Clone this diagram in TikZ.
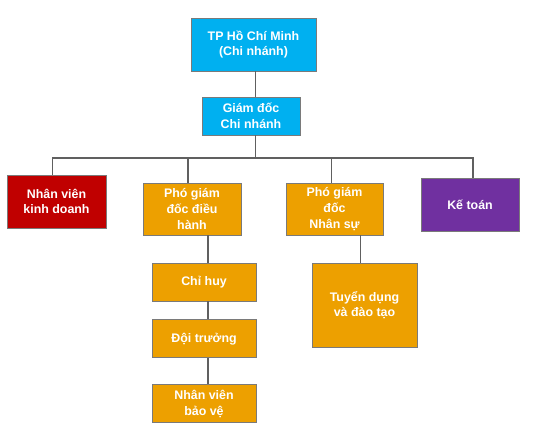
\documentclass[tikz,border=0pt]{standalone}
\usepackage{fontspec}
\setmainfont{Liberation Sans}
\usepackage{xcolor}
\usepackage{tikz}
\usetikzlibrary{positioning}

\definecolor{chinhanh}{HTML}{00B0F0}
\definecolor{kinhdoanh}{HTML}{C00000}
\definecolor{phogd}{HTML}{EDA000}
\definecolor{ketoan}{HTML}{7030A0}
\definecolor{vien}{HTML}{7A7A7A}
\definecolor{noi}{HTML}{606060}

\begin{document}
\begin{tikzpicture}[
    x=1pt, y=-1pt,
    box/.style={draw=vien, line width=0.9pt, fill=#1, text=white, inner sep=0pt,
                font=\fontsize{12.4}{15.7}\selectfont\bfseries, align=center},
    box/.default=phogd,
    conn/.style={draw=noi, line width=1.7pt},
]
\useasboundingbox (0,0) rectangle (556,428);

% Cap tren
\node[box=chinhanh, minimum width=125pt, minimum height=53pt] (tphcm) at (253.5,44.5) {TP Hồ Chí Minh\\(Chi nhánh)};
\node[box=chinhanh, minimum width=98pt, minimum height=38pt] (giamdoc) at (251,116) {Giám đốc\\Chi nhánh};

% Cac bo phan
\node[box=kinhdoanh, minimum width=99pt, minimum height=53pt] (nvkd) at (56.5,201.5) {Nhân viên\\kinh doanh};
\node[box, minimum width=98pt, minimum height=52pt] (pgddh) at (192,209) {Phó giám\\đốc điều\\hành};
\node[box, minimum width=97pt, minimum height=52pt] (pgdns) at (334.5,209) {Phó giám\\đốc\\Nhân sự};
\node[box=ketoan, minimum width=98pt, minimum height=53pt] (ketoan) at (470,204.5) {Kế toán};

% Duoi pho giam doc
\node[box, minimum width=104pt, minimum height=38pt] (chihuy) at (204,282) {Chỉ huy};
\node[box, minimum width=104pt, minimum height=38pt, below=18pt of chihuy] (doitruong) {Đội trưởng};
\node[box, minimum width=104pt, minimum height=38pt, below=26pt of doitruong] (nvbv) {Nhân viên\\bảo vệ};
\node[box, minimum width=105pt, minimum height=84pt] (tuyendung) at (364.5,305) {Tuyển dụng\\và đào tạo};

% Duong noi
\coordinate (bus) at (0,158);
\draw[conn] ([xshift=2pt]tphcm.south) -- ([xshift=2pt]tphcm.south |- giamdoc.north);
\draw[conn] ([xshift=2pt]tphcm.south |- giamdoc.south) -- ([xshift=2pt]tphcm.south |- bus);
\draw[conn] ([xshift=-4pt]nvkd.north) -- ([xshift=-4pt]nvkd.north |- bus) -- ([xshift=3pt]ketoan.north |- bus) -- ([xshift=3pt]ketoan.north);
\draw[conn] ([xshift=-4pt]pgddh.north) -- ([xshift=-4pt]pgddh.north |- bus);
\draw[conn] ([xshift=-3pt]pgdns.north) -- ([xshift=-3pt]pgdns.north |- bus);
\draw[conn] ([xshift=4pt]chihuy.north |- pgddh.south) -- ([xshift=4pt]chihuy.north);
\draw[conn] ([xshift=4pt]chihuy.south) -- ([xshift=4pt]doitruong.north);
\draw[conn] ([xshift=4pt]doitruong.south) -- ([xshift=4pt]nvbv.north);
\draw[conn] ([xshift=-4pt]tuyendung.north |- pgdns.south) -- ([xshift=-4pt]tuyendung.north);
\end{tikzpicture}
\end{document}
